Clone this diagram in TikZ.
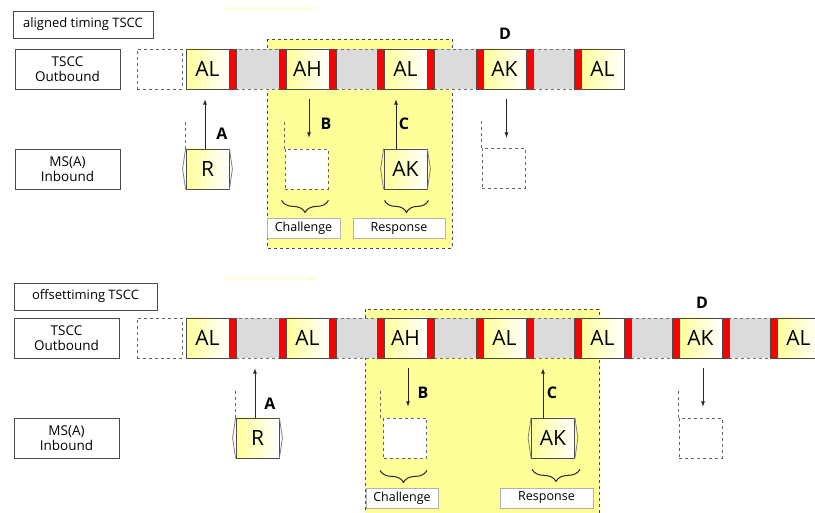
\documentclass[tikz,border=0pt]{standalone}
\usepackage{fontspec}
\setmainfont{Open Sans}
\usetikzlibrary{calc,positioning}
\usetikzlibrary{decorations.pathreplacing}
\definecolor{hl}{RGB}{255,255,153}

\begin{document}
\begin{tikzpicture}[x=1pt,y=-1pt,line width=0.8pt,
  lane/.style={draw=black!70,fill=white,minimum width=105,minimum height=40,
    inner sep=0,align=center,font=\fontsize{13.5}{15}\selectfont},
  title/.style={draw=black!70,fill=white,minimum height=27,inner sep=0,
    font=\fontsize{13}{14}\selectfont},
  empty/.style={draw=black!60,dashed,fill=white,minimum width=45,minimum height=40,inner sep=0},
  slot/.style={draw=black!70,left color=hl,right color=white,minimum width=43,
    minimum height=40,inner sep=0,font=\fontsize{21}{22}\selectfont},
  gap/.style={draw=black!55,dashed,fill=black!14,minimum height=40,inner sep=0},
  redbar/.style={draw=black!70,fill=red,minimum width=7,minimum height=40,inner sep=0},
  hole/.style={draw=black!60,dashed,fill=white,minimum width=43,minimum height=40,inner sep=0},
  region/.style={draw=black!70,dashed,fill=hl},
  lead/.style={draw=black!60,dashed},
  chev/.style={draw=black!50},
  arr/.style={->,>=latex,black!85},
  tag/.style={font=\fontsize{16}{17}\bfseries\selectfont},
  note/.style={draw=black!30,fill=white,minimum height=20,inner sep=0,
    font=\fontsize{12.5}{14}\selectfont},
  brc/.style={decorate,decoration={brace,mirror,amplitude=12},black!85,line width=1pt}]
  \useasboundingbox (0,0) rectangle (815,513);

  % aligned timing
  \fill[hl!35] (224,7) rectangle (316,10);
  \node[title,minimum width=140] (tt) at (83,24.5) {aligned timing TSCC};
  \node[lane] (to) at (67.5,69) {TSCC\\Outbound};
  \node[lane] (ti) at (67.5,169) {MS(A)\\Inbound};
  \draw[region] (267,39) rectangle (452,248);
  \node[empty] (t0) at (159.5,69) {};
  \foreach \s/\n [count=\i] in {186/286,286/384,384/483,483/581}{
    \node[gap,minimum width=\n-\s-57] (tg\i) at ({(\s+\n+43)/2},69) {};
    \node[redbar] (tra\i) at (\s+46.5,69) {};
    \node[redbar] (trb\i) at (\n-3.5,69) {};
  }
  \foreach \s/\t [count=\i] in {186/AL,286/AH,384/AL,483/AK,581/AL}
    \node[slot] (t\i) at (\s+21.5,69) {\t};

  \node[slot] (tr) at (207.5,169) {R};
  \node[hole] (tb) at (306.5,169) {};
  \node[slot] (tk) at (405.5,169) {AK};
  \node[hole] (td) at (503.5,168) {};
  \foreach \n in {tr,tk}
    \draw[chev] (\n.north west) -- ([xshift=-3]\n.west) -- (\n.south west)
      (\n.north east) -- ([xshift=3]\n.east) -- (\n.south east);
  \foreach \n in {tr,tb,td}
    \draw[lead] (\n.north west) -- ++(0,-30);

  \draw[arr,shorten >=10] ([xshift=-2.5]tr.north) -- ([xshift=-2.5]tr.north |- t1.south);
  \draw[arr,shorten <=10,shorten >=11] ([xshift=1.5]t2.south) -- ([xshift=1.5]t2.south |- tb.north);
  \draw[arr,shorten >=10] ([xshift=-9.5]tk.north) -- ([xshift=-9.5]tk.north |- t3.south);
  \draw[arr,shorten <=10,shorten >=10] ([xshift=2]t4.south) -- ([xshift=2]t4.south |- td.north);
  \node[tag] (ta) at (222,134) {A};
  \node[tag] (tlb) at (326,124) {B};
  \node[tag] (tlc) at (404,124) {C};
  \node[tag] (tld) at (505,34) {D};

  \draw[brc] ([xshift=-3,yshift=-11]tb.south west) -- ([yshift=-11]tb.south east);
  \draw[brc] ([xshift=1,yshift=-11]tk.south west) -- ([xshift=1,yshift=-11]tk.south east);
  \node[note,minimum width=73] (tch) at (303.5,228.5) {Challenge};
  \node[note,minimum width=92] (tre) at (399,228.5) {Response};

  % offset timing
  \fill[hl!35] (224,277) rectangle (316,280);
  \node[title,minimum width=143] (bt) at (85.5,296.5) {offsettiming TSCC};
  \node[lane] (bo) at (66.5,338) {TSCC\\Outbound};
  \node[lane] (bi) at (66.5,438) {MS(A)\\Inbound};
  \draw[region] (365,309) rectangle (599,516);
  \node[empty] (b0) at (159.5,338) {};
  \foreach \s/\n [count=\i] in {186/286,286/384,384/483,483/581,581/679,679/777}{
    \node[gap,minimum width=\n-\s-57] (bg\i) at ({(\s+\n+43)/2},338) {};
    \node[redbar] (bra\i) at (\s+46.5,338) {};
    \node[redbar] (brb\i) at (\n-3.5,338) {};
  }
  \foreach \s/\t [count=\i] in {186/AL,286/AL,384/AH,483/AL,581/AL,679/AK,777/AL}
    \node[slot] (b\i) at (\s+21.5,338) {\t};

  \node[slot] (br) at (257.5,438) {R};
  \node[hole] (bb) at (405,438) {};
  \node[slot] (bk) at (553,438) {AK};
  \node[hole] (bd) at (700.5,438) {};
  \foreach \n in {br,bk}
    \draw[chev] (\n.north west) -- ([xshift=-3]\n.west) -- (\n.south west)
      (\n.north east) -- ([xshift=3]\n.east) -- (\n.south east);
  \draw[lead] (br.north west) -- ++(0,-30);
  \draw[lead] ([xshift=-3]bb.north west) -- ++(0,-30);
  \draw[lead] (bd.north west) -- ++(0,-30);

  \draw[arr,shorten >=10] ([xshift=-2.5]br.north) -- ([xshift=-2.5]br.north |- bg1.south);
  \draw[arr,shorten <=10,shorten >=11] ([xshift=2.5]b3.south) -- ([xshift=2.5]b3.south |- bb.north);
  \draw[arr,shorten >=10] ([xshift=-10]bk.north) -- ([xshift=-10]bk.north |- bg4.south);
  \draw[arr,shorten <=10,shorten >=11] ([xshift=2.5]b6.south) -- ([xshift=2.5]b6.south |- bd.north);
  \node[tag] (ba) at (270,404) {A};
  \node[tag] (blb) at (423,393) {B};
  \node[tag] (blc) at (552,393) {C};
  \node[tag] (bld) at (702,303) {D};

  \draw[brc] ([xshift=-3,yshift=-12]bb.south west) -- ([yshift=-12]bb.south east);
  \draw[brc] ([xshift=1,yshift=-11]bk.south west) -- ([xshift=5,yshift=-11]bk.south east);
  \node[note,minimum width=72] (bch) at (402,498) {Challenge};
  \node[note,minimum width=93] (bre) at (546.5,498) {Response};
\end{tikzpicture}
\end{document}
